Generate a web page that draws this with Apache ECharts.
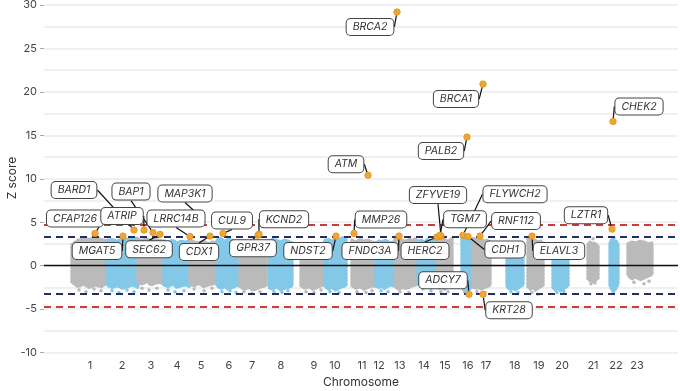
<!DOCTYPE html>
<html><head><meta charset="utf-8">
<script src="https://cdn.jsdelivr.net/npm/echarts@6/dist/echarts.min.js"></script>
<style>html,body{margin:0;padding:0;background:#fff}#c{width:680px;height:391px}</style>
</head><body><div id="c"></div>
<script>
// ---- Data (x = genomic position in plot units, z = Z score) ----
const chromosomes = ['1','2','3','4','5','6','7','8','9','10','11','12','13','14','15','16','17','18','19','20','21','22','23'];
const chromCenter = [46,78,107,133,157,185,208,237,270,291,318,335,356,380,401,424,442,471,495,518,549,572,593];
const clusterStart = [28,63,94,120,146,173,196,225,257,281,308,332,351,374,393,418,429,463,484,509,544,566,584];
const clusterEnd   = [63,94,120,146,173,196,222,248,281,302,332,349,372,393,408,429,446,479,499,524,554,574,608];
const clusterTop = [
  [2.4,2.9,3.1,3.0,3.2,3.0,2.8],[2.9,3.0,2.8,3.1,3.0,3.2,3.1],[3.0,2.9,3.1,2.8,3.0,2.9,2.8],
  [2.8,2.7,2.9,2.6,2.8,2.7,2.9],[2.9,2.7,2.6,2.8,2.5,2.7,2.6],[2.9,3.1,2.8,3.0,2.9,2.7,2.8],
  [2.6,2.8,2.5,2.7,2.6,2.8,2.5],[2.8,3.0,2.9,2.7,2.9,2.8,2.6],[2.2,2.5,2.4,2.6,2.3,2.5,2.4],
  [2.9,3.0,2.8,3.1,2.9,3.2,3.0],[2.9,2.7,3.0,2.8,2.9,2.7,2.6],[2.6,2.8,2.7,2.9,2.8,2.6,2.7],
  [3.0,3.1,2.9,2.8,3.0,2.9,3.1],[2.8,2.9,2.7,3.0,2.8,2.9,2.7],[3.0,2.9,3.1,3.0,2.8,2.9,3.1],
  [3.2,3.0,3.1,2.9,3.0,2.8,2.9],[3.1,3.0,2.9,3.0,2.8,2.9,2.7],[0.9,1.0,0.9,1.1,1.0,0.9,0.8],
  [3.1,3.0,2.8,2.9,2.7,2.8,2.6],[0.8,0.9,0.8,1.0,0.9,0.8,0.7],[2.4,2.7,2.6,2.5,2.6,2.4,2.2],
  [2.5,2.9,3.0,2.8,2.9,2.7,2.4],[2.5,2.7,2.6,2.8,2.7,2.5,2.6]
];
const clusterBottom = [
  [-1.9,-2.4,-2.1,-2.5,-2.2,-2.4,-2.0],[-2.2,-2.5,-2.3,-2.6,-2.4,-2.2,-2.5],[-1.9,-2.1,-1.8,-2.2,-2.0,-1.9,-2.1],
  [-2.2,-2.4,-2.1,-2.5,-2.3,-2.2,-2.4],[-2.1,-2.3,-2.0,-2.4,-2.2,-2.1,-1.9],[-2.3,-2.6,-2.4,-2.7,-2.5,-2.3,-2.2],
  [-2.4,-2.7,-2.5,-2.8,-2.6,-2.4,-2.3],[-2.5,-2.7,-2.4,-2.8,-2.6,-2.5,-2.3],[-2.3,-2.6,-2.4,-2.7,-2.5,-2.3,-2.1],
  [-2.4,-2.7,-2.5,-2.8,-2.6,-2.4,-2.3],[-2.3,-2.6,-2.4,-2.7,-2.5,-2.3,-2.4],[-2.3,-2.5,-2.4,-2.6,-2.4,-2.2,-2.3],
  [-2.4,-2.7,-2.5,-2.6,-2.5,-2.3,-2.2],[-2.1,-2.3,-2.2,-2.4,-2.2,-2.1,-2.0],[-2.4,-2.6,-2.5,-2.7,-2.5,-2.4,-2.3],
  [-2.5,-2.8,-2.6,-2.9,-2.7,-2.5,-2.4],[-2.4,-2.6,-2.5,-2.7,-2.5,-2.4,-2.2],[-2.4,-2.7,-2.5,-2.8,-2.6,-2.4,-2.2],
  [-2.4,-2.7,-2.5,-2.8,-2.6,-2.4,-2.3],[-2.5,-2.8,-2.6,-2.9,-2.7,-2.5,-2.3],[-1.5,-1.7,-1.6,-1.8,-1.7,-1.6,-1.4],
  [-2.2,-2.6,-2.8,-2.9,-2.7,-2.4,-2.1],[-1.1,-1.5,-1.3,-1.6,-1.4,-1.2,-1.0]
];
// sparse points outside the dense band: [position, z, chromosome index]
const outliers = [
  [35,-2.8,0],[42,-3.0,0],[50,-2.7,0],[57,-2.9,0],
  [68,-2.9,1],[75,-3.1,1],[83,-2.8,1],[90,-3.0,1],
  [98,-2.6,2],[105,-2.8,2],[113,-2.6,2],
  [124,-2.8,3],[131,-3.0,3],[140,-2.9,3],
  [150,-2.7,4],[160,-2.9,4],[168,-2.6,4],
  [178,-3.0,5],[186,-2.9,5],[192,-3.1,5],[183,3.3,5],
  [200,-3.0,6],[208,-3.2,6],[216,-3.0,6],
  [230,-3.0,7],[238,-3.1,7],[244,-2.9,7],
  [262,-3.0,8],[270,-3.1,8],[277,-2.8,8],
  [286,-3.0,9],[295,-3.1,9],
  [313,-3.0,10],[322,-3.1,10],[328,-2.9,10],
  [337,-2.9,11],[344,-3.0,11],
  [356,-3.0,12],[365,-3.1,12],
  [379,-2.7,13],[387,-2.9,13],
  [397,-3.0,14],[404,-3.0,14],
  [421,-3.1,15],[426,-3.2,15],
  [433,-3.0,16],[441,-3.1,16],
  [467,-3.0,17],[474,-3.1,17],
  [488,-3.1,18],[494,-3.3,18],
  [513,-3.1,19],[520,-3.0,19],
  [547,-2.1,20],[551,-2.0,20],[549,3.1,20],
  [569,-3.0,21],[570,3.2,21],
  [590,-1.9,22],[600,-2.1,22],[605,-1.8,22]
];
const genes = ['BRCA2','BRCA1','CHEK2','PALB2','ATM','MAP3K1','CFAP126','MGAT5','BARD1','ATRIP','BAP1','SEC62','LRRC14B','CDX1','CUL9','GPR37','KCND2','NDST2','MMP26','FNDC3A','ZFYVE19','HERC2','TGM7','FLYWCH2','CDH1','RNF112','ELAVL3','LZTR1','ADCY7','KRT28'];
const geneX = [353,439,569,423,324,153,51,79,90,100,109,116,146,166,179,214,215,292,310,355,397,393,396,419,424,436,488,568,425,439];
const geneZ = [29.2,20.9,16.6,14.8,10.4,6.0,3.7,3.4,4.1,4.1,3.8,3.6,3.35,3.4,3.7,3.5,3.6,3.4,3.7,3.4,3.4,3.3,3.5,3.5,3.35,3.4,3.4,4.2,-3.3,-3.3];
const thresholdSuggestive = 3.29;
const thresholdSignificant = 4.71;
const yAxisTitle = 'Z score';
const xAxisTitle = 'Chromosome';

// ---- Layout / style ----
const labelOffsets = {
  BRCA2:[-27,15], BRCA1:[-27,15], CHEK2:[26,-15], PALB2:[-26,14], ATM:[-22,-11], MAP3K1:[-12,-20],
  CFAP126:[-20,-15], MGAT5:[-26,15], BARD1:[-60,-40], ATRIP:[-22,-14], BAP1:[-22,-41], SEC62:[-11,15],
  LRRC14B:[-14,-18], CDX1:[-11,16], CUL9:[9,-13], GPR37:[-5,13], KCND2:[25,-15], NDST2:[-28,15],
  MMP26:[27,-14], FNDC3A:[-29,15], ZFYVE19:[-3,-41], HERC2:[-12,14], TGM7:[25,-16], FLYWCH2:[52,-41],
  CDH1:[37,13], RNF112:[36,-15], ELAVL3:[27,15], LZTR1:[-26,-14], ADCY7:[-26,-14], KRT28:[26,16]
};
const GRAY = '#bababa', BLUE = '#84c8e8', ORANGE = '#f0a632';
const FONT = 'Inter, "Noto Sans", sans-serif';
const colorOf = i => (i % 2 === 0 ? GRAY : BLUE);

const chart = echarts.init(document.getElementById('c'), null, {renderer: 'canvas'});
chart.setOption({
  animation: false,
  textStyle: {fontFamily: FONT},
  grid: {left: 44, right: 2, top: 5, bottom: 38.5, containLabel: false, outerBoundsMode: 'none'},
  graphic: [{
    type: 'text', x: 12, y: 178, rotation: Math.PI / 2, silent: true,
    style: {text: yAxisTitle, fill: '#333', font: '12px ' + FONT, align: 'center', verticalAlign: 'middle'}
  }],
  xAxis: {
    type: 'value', min: 0, max: 634,
    axisLine: {show: false},
    splitLine: {show: false},
    axisTick: {show: true, customValues: chromCenter, length: 4, lineStyle: {color: '#aaa'}},
    axisLabel: {
      customValues: chromCenter, color: '#444', fontSize: 11, margin: 8,
      formatter: v => chromosomes[chromCenter.indexOf(v)]
    },
    name: xAxisTitle, nameLocation: 'middle', nameGap: 24,
    nameTextStyle: {color: '#333', fontSize: 12}
  },
  yAxis: {
    type: 'value', min: -10, max: 30, interval: 5,
    axisLine: {show: false},
    axisTick: {show: true, length: 4, lineStyle: {color: '#aaa'}},
    axisLabel: {color: '#444', fontSize: 11, margin: 7},
    splitLine: {lineStyle: {color: '#ebebeb', width: 1.5}},
    minorTick: {show: false, splitNumber: 2},
    minorSplitLine: {show: true, lineStyle: {color: '#ebebeb', width: 1.5}}
  },
  series: [
    {
      type: 'custom', z: 2, silent: true,
      data: chromosomes.map((c, i) => [i, clusterStart[i], clusterEnd[i]]),
      renderItem: function (params, api) {
        const i = api.value(0);
        const x0 = clusterStart[i], x1 = clusterEnd[i];
        const top = clusterTop[i], bot = clusterBottom[i];
        const n = top.length, pts = [];
        for (let k = 0; k < n; k++) pts.push(api.coord([x0 + (x1 - x0) * k / (n - 1), top[k]]));
        for (let k = n - 1; k >= 0; k--) pts.push(api.coord([x0 + (x1 - x0) * k / (n - 1), bot[k]]));
        return {type: 'polygon', shape: {points: pts},
          style: {fill: colorOf(i), stroke: colorOf(i), lineWidth: 3.5, lineDash: [1.2, 2.2], lineCap: 'round', lineJoin: 'round'}};
      }
    },
    {
      type: 'scatter', z: 3, silent: true, symbolSize: 3.5,
      data: outliers,
      itemStyle: {color: p => colorOf(p.data[2]), opacity: 1}
    },
    {
      type: 'scatter', z: 4, silent: true, data: [],
      markLine: {
        silent: true, symbol: ['none', 'none'], label: {show: false},
        data: [
          {yAxis: 0, lineStyle: {color: '#111', width: 1.3, type: 'solid'}},
          {yAxis: thresholdSuggestive, lineStyle: {color: '#232c63', width: 2, type: [7, 5]}},
          {yAxis: -thresholdSuggestive, lineStyle: {color: '#232c63', width: 2, type: [7, 5]}},
          {yAxis: thresholdSignificant, lineStyle: {color: '#cf3a3a', width: 2, type: [7, 5]}},
          {yAxis: -thresholdSignificant, lineStyle: {color: '#cf3a3a', width: 2, type: [7, 5]}}
        ]
      }
    },
    {
      type: 'scatter', z: 10, symbolSize: 6.5,
      data: genes.map((g, i) => ({name: g, value: [geneX[i], geneZ[i]]})),
      itemStyle: {color: ORANGE, borderColor: '#d88a10', borderWidth: 0.6, opacity: 1},
      label: {
        show: true, position: 'inside', formatter: '{b}',
        fontStyle: 'italic', fontSize: 10.5, color: '#333', fontFamily: FONT,
        backgroundColor: '#fff', borderColor: '#444', borderWidth: 1, borderRadius: 4,
        padding: [2, 6, 2, 6], lineHeight: 12
      },
      labelLine: {show: true, lineStyle: {color: '#111', width: 1.2}},
      labelLayout: function (params) {
        const o = labelOffsets[genes[params.dataIndex]];
        return {dx: o[0], dy: o[1]};
      }
    }
  ]
});
</script></body></html>
